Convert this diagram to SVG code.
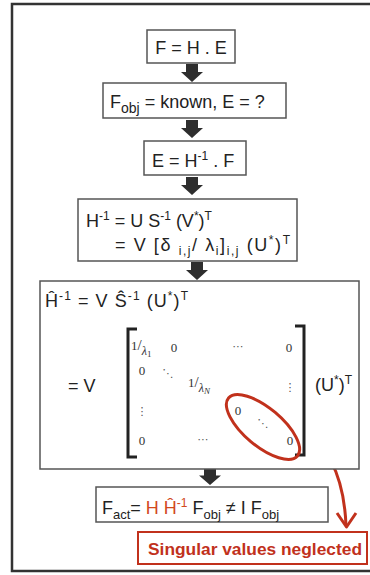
<svg xmlns="http://www.w3.org/2000/svg" width="370" height="575" viewBox="0 0 370 575">
<defs>
<style>
.box{fill:#fff;stroke:#555;stroke-width:1.5}
.t{font-family:"Liberation Sans",Arial,sans-serif;font-size:18px;fill:#222}
.m{font-family:"Liberation Serif","DejaVu Serif",serif;font-size:13px;fill:#333}
.d{font-family:"DejaVu Sans",sans-serif;font-size:11px;fill:#555}
.arr{fill:#2e2e2e}
.red{stroke:#c1311c;stroke-width:3;fill:none}
.or{fill:#d2491c}
</style>
<path id="blk" d="M-6 0 H6 V8 H11 L0 18 L-11 8 H-6 Z"/>
</defs>
<rect x="12" y="4" width="362" height="567" fill="#fff" stroke="#333" stroke-width="2.5"/>
<g id="connectors">
<use href="#blk" class="arr" transform="translate(192,64)"/>
<use href="#blk" class="arr" transform="translate(192,120)"/>
<use href="#blk" class="arr" transform="translate(192,177)"/>
<use href="#blk" class="arr" transform="translate(197,262)"/>
<use href="#blk" class="arr" transform="translate(210,468) scale(1,0.95)"/>
<path class="red" d="M300 431 C322 438 344 470 346 526"/>
<polyline class="red" points="337,513 346.5,527 356,513" stroke-linejoin="round"/>
</g>
<g id="n1">
<rect class="box" x="147" y="30" width="88" height="33"/>
<text class="t" x="191" y="54" text-anchor="middle">F = H . E</text>
</g>
<g id="n2">
<rect class="box" x="103" y="83" width="183" height="35"/>
<text class="t" x="110" y="108" font-size="20">F<tspan font-size="14" dy="5">obj</tspan><tspan dy="-5"> = known, E = ?</tspan></text>
</g>
<g id="n3">
<rect class="box" x="144" y="141" width="102" height="34"/>
<text class="t" x="152" y="167" font-size="19">E = H<tspan font-size="12" dy="-7">-1</tspan><tspan dy="7"> . F</tspan></text>
</g>
<g id="n4">
<rect class="box" x="78" y="199" width="219" height="62"/>
<text class="t" x="86" y="227" font-size="19">H<tspan font-size="12" dy="-7">-1</tspan><tspan dy="7"> = U S</tspan><tspan font-size="12" dy="-7">-1</tspan><tspan dy="7"> (V</tspan><tspan font-size="12" dy="-7">*</tspan><tspan dy="7">)</tspan><tspan font-size="12" dy="-7">T</tspan></text>
<text class="t" x="115" y="251" font-size="19" textLength="175" lengthAdjust="spacing">= V [δ <tspan font-size="12" dy="4">i,j</tspan><tspan dy="-4">/ λ</tspan><tspan font-size="12" dy="4">i</tspan><tspan dy="-4">]</tspan><tspan font-size="12" dy="4">i,j</tspan><tspan dy="-4"> (U</tspan><tspan font-size="12" dy="-7">*</tspan><tspan dy="7">)</tspan><tspan font-size="12" dy="-7">T</tspan></text>
</g>
<g id="n5">
<rect class="box" x="40" y="281" width="319" height="188"/>
<text class="t" x="45" y="307" font-size="19" textLength="143" lengthAdjust="spacing">Ĥ<tspan font-size="12" dy="-7">-1</tspan><tspan dy="7"> = V Ŝ</tspan><tspan font-size="12" dy="-7">-1</tspan><tspan dy="7"> (U</tspan><tspan font-size="12" dy="-7">*</tspan><tspan dy="7">)</tspan><tspan font-size="12" dy="-7">T</tspan></text>
<text class="t" x="68" y="392" font-size="19">= V</text>
<text class="t" x="315" y="391" font-size="19">(U<tspan font-size="12" dy="-7">*</tspan><tspan dy="7">)</tspan><tspan font-size="12" dy="-7">T</tspan></text>
<path d="M137 329 H128 V457 H137" fill="none" stroke="#222" stroke-width="3"/>
<path d="M295 326 H304 V455 H295" fill="none" stroke="#222" stroke-width="3"/>
<text class="m" x="131" y="350">1<tspan font-size="15">/</tspan><tspan font-style="italic" font-size="12" dy="5">λ</tspan><tspan font-size="9" dy="2">1</tspan></text>
<text class="m" x="174" y="352" text-anchor="middle">0</text>
<text class="d" x="238" y="350" text-anchor="middle">⋯</text>
<text class="m" x="289" y="352" text-anchor="middle">0</text>
<text class="m" x="142" y="375" text-anchor="middle">0</text>
<text class="d" x="168" y="377" text-anchor="middle">⋱</text>
<text class="m" x="188" y="387">1<tspan font-size="15">/</tspan><tspan font-style="italic" font-size="12" dy="5">λ</tspan><tspan font-size="9" font-style="italic" dy="2">N</tspan></text>
<text class="d" x="290" y="391" text-anchor="middle">⋮</text>
<text class="d" x="142" y="415" text-anchor="middle">⋮</text>
<text class="m" x="238" y="415" text-anchor="middle">0</text>
<text class="d" x="263" y="427" text-anchor="middle">⋱</text>
<text class="m" x="142" y="445" text-anchor="middle">0</text>
<text class="d" x="203" y="443" text-anchor="middle">⋯</text>
<text class="m" x="290" y="445" text-anchor="middle">0</text>
<ellipse cx="263" cy="427" rx="45" ry="19" transform="rotate(40 263 427)" class="red"/>
</g>
<g id="n6">
<rect class="box" x="96" y="487" width="232" height="35"/>
<text class="t" x="102" y="514" font-size="19">F<tspan font-size="13" dy="5">act</tspan><tspan dy="-5">= </tspan><tspan class="or">H Ĥ</tspan><tspan class="or" font-size="12" dy="-7">-1</tspan><tspan dy="7"> F</tspan><tspan font-size="13" dy="5">obj</tspan><tspan dy="-5"> ≠ I F</tspan><tspan font-size="13" dy="5">obj</tspan></text>
</g>
<g id="n7">
<rect x="138" y="532" width="229" height="32" fill="#fff" stroke="#c1311c" stroke-width="2"/>
<text x="148" y="555" font-family="'Liberation Sans',Arial,sans-serif" font-size="17" font-weight="bold" fill="#c1311c" textLength="214" lengthAdjust="spacingAndGlyphs">Singular values neglected</text>
</g>
</svg>
